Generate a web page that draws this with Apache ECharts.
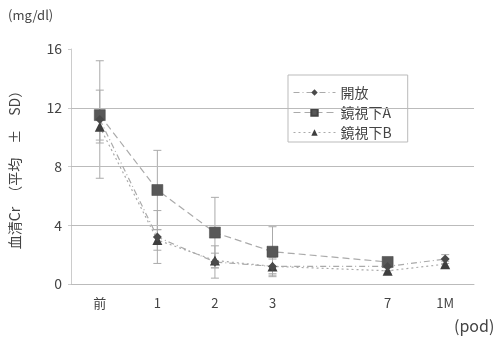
<!DOCTYPE html>
<html>
<head>
<meta charset="utf-8">
<script src="https://cdn.jsdelivr.net/npm/echarts@6/dist/echarts.min.js"></script>
<style>
  html, body { margin: 0; padding: 0; background: #fff; }
  #chart { width: 501px; height: 338px; }
</style>
</head>
<body>
<div id="chart"></div>
<script>
// Time points after surgery; the blank slot keeps the gap between day 3 and day 7
const categories = ['前', '1', '2', '3', '', '7', '1M'];

// Serum creatinine, mean and SD per group (mg/dl)
const openMean = [11.2, 3.2, 1.5, 1.2, null, 1.2, 1.7];
const openSD   = [4.0, 1.8, 1.1, 0.6, null, 0.3, 0.3];
const aMean    = [11.5, 6.4, 3.5, 2.2, null, 1.5, null];
const aSD      = [1.7, 2.7, 2.4, 1.7, null, 0.3, null];
const bMean    = [10.7, 3.0, 1.6, 1.2, null, 0.9, 1.35];
const bSD      = [1.1, 0.7, 0.5, 0.5, null, 0.2, 0.2];

const yTicks = [0, 4, 8, 12, 16];
const gridValues = [4, 8, 12];

const FONT = '"Noto Sans CJK JP", "Noto Sans", sans-serif';
const TEXT = '#444';

function errorData(mean, sd) {
  const out = [];
  mean.forEach((m, i) => {
    if (m != null && sd[i] != null) out.push([i, m - sd[i], m + sd[i]]);
  });
  return out;
}

function renderError(params, api) {
  const x = api.value(0);
  const lo = api.coord([x, api.value(1)]);
  const hi = api.coord([x, api.value(2)]);
  const w = 4;
  const style = { stroke: '#aaa', lineWidth: 1 };
  return {
    type: 'group',
    children: [
      { type: 'line', shape: { x1: lo[0], y1: lo[1], x2: hi[0], y2: hi[1] }, style },
      { type: 'line', shape: { x1: hi[0] - w, y1: hi[1], x2: hi[0] + w, y2: hi[1] }, style },
      { type: 'line', shape: { x1: lo[0] - w, y1: lo[1], x2: lo[0] + w, y2: lo[1] }, style }
    ]
  };
}

function errorSeries(name, mean, sd) {
  return {
    name: name,
    type: 'custom',
    renderItem: renderError,
    data: errorData(mean, sd),
    encode: { x: 0, y: [1, 2] },
    silent: true,
    z: 1
  };
}

const chart = echarts.init(document.getElementById('chart'), null, { renderer: 'canvas' });

chart.setOption({
  animation: false,
  backgroundColor: '#fff',
  textStyle: { fontFamily: FONT },
  grid: { left: 71, right: 27, top: 49, bottom: 54 },
  legend: {
    data: ['開放', '鏡視下A', '鏡視下B'],
    orient: 'vertical',
    left: 288,
    top: 75,
    padding: [10, 16, 2, 5],
    itemGap: 5,
    itemWidth: 42,
    itemHeight: 8,
    backgroundColor: '#fff',
    borderColor: '#bbb',
    borderWidth: 1,
    lineStyle: { width: 1 },
    textStyle: { fontFamily: FONT, fontSize: 14, color: TEXT, lineHeight: 15 }
  },
  xAxis: {
    type: 'category',
    data: categories,
    boundaryGap: true,
    axisLine: { lineStyle: { color: '#bbb' } },
    axisTick: { show: false },
    axisLabel: { color: TEXT, fontSize: 13, margin: 13, interval: 0 },
    splitLine: { show: false }
  },
  yAxis: {
    type: 'value',
    min: yTicks[0],
    max: yTicks[yTicks.length - 1],
    interval: 4,
    name: '血清Cr　（平均　±　SD）',
    nameLocation: 'middle',
    nameRotate: 90,
    nameGap: 49,
    nameTextStyle: { color: TEXT, fontSize: 14, fontFamily: FONT },
    axisLine: { show: true, lineStyle: { color: '#ccc' } },
    axisTick: { show: true, inside: false, length: 3, lineStyle: { color: '#ccc' } },
    axisLabel: { color: TEXT, fontSize: 14, margin: 9 },
    splitLine: { show: false }
  },
  graphic: [
    { type: 'text', left: 8, top: 9, style: { text: '(mg/dl)', font: '13px ' + FONT, fill: TEXT } },
    { type: 'text', left: 454, top: 318, style: { text: '(pod)', font: '16px ' + FONT, fill: TEXT } }
  ],
  series: [
    errorSeries('err-open', openMean, openSD),
    errorSeries('err-a', aMean, aSD),
    errorSeries('err-b', bMean, bSD),
    {
      name: '鏡視下B',
      type: 'line',
      data: bMean,
      connectNulls: true,
      symbol: 'triangle',
      symbolSize: 10,
      itemStyle: { color: '#3e3e3e' },
      lineStyle: { color: '#aaa', width: 1.2, type: [2, 3] },
      z: 3,
      markLine: {
        silent: true,
        symbol: 'none',
        label: { show: false },
        lineStyle: { color: '#bbb', width: 1, type: 'solid' },
        data: gridValues.map(v => ({ yAxis: v }))
      }
    },
    {
      name: '鏡視下A',
      type: 'line',
      data: aMean,
      connectNulls: true,
      symbol: 'rect',
      symbolSize: 11,
      itemStyle: { color: '#585858', borderColor: '#444', borderWidth: 0.5 },
      lineStyle: { color: '#aaa', width: 1.2, type: [7, 4] },
      z: 4
    },
    {
      name: '開放',
      type: 'line',
      data: openMean,
      connectNulls: true,
      symbol: 'diamond',
      symbolSize: 9,
      itemStyle: { color: '#4a4a4a' },
      lineStyle: { color: '#aaa', width: 1.2, type: [6, 3, 1, 3] },
      z: 5
    }
  ]
});
</script>
</body>
</html>
